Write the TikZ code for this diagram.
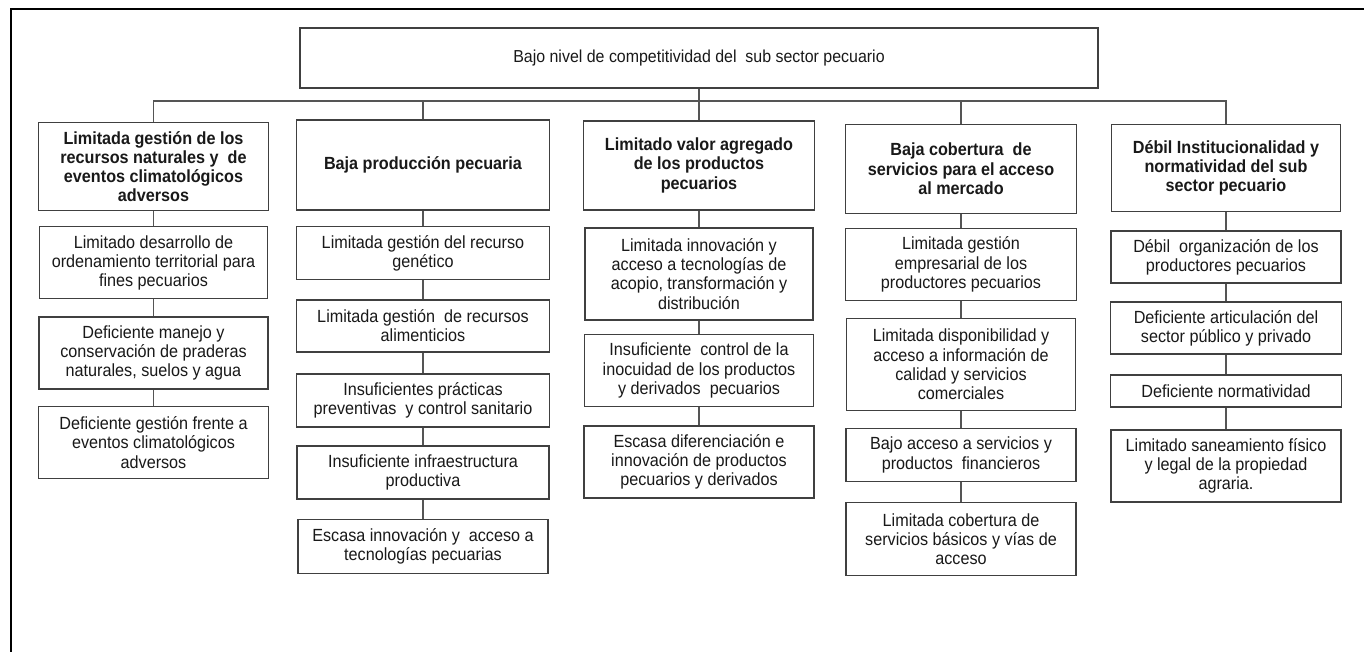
\documentclass[tikz,border=0pt]{standalone}
\usepackage{fontspec}
\setmainfont{Liberation Sans}[FakeStretch=0.92]
\usetikzlibrary{positioning}

\definecolor{boxline}{RGB}{64,64,64}
\definecolor{linkline}{RGB}{85,85,85}

\tikzset{every picture/.style={line width=0.75pt}}
\tikzset{
	cbox/.style={draw=boxline, line width=1.1pt, fill=white, align=center, inner sep=2pt,
		font=\fontsize{13.2}{14.4}\selectfont, text=black!90},
	hbox/.style={cbox, font=\fontsize{13.2}{14.4}\selectfont\bfseries},
	link/.style={draw=linkline, line width=1pt},
}

\begin{document}
\begin{tikzpicture}[x=0.75pt,y=0.75pt,yscale=-1,xscale=1]
	\useasboundingbox (0,0) rectangle (1364,652);
	
	%Shape: Frame
	\draw [line width=2.2pt] (1370,9) -- (11,9) -- (11,660) ;
	
	%Rectangle: main problem
	\node [cbox, minimum width=598.5pt, minimum height=45pt, font=\fontsize{13}{14}\selectfont] (top) at (699,58) {Bajo nivel de competitividad del \ sub sector pecuario};
	
	%Rectangles: direct causes
	\node [hbox, minimum width=172.5pt, minimum height=66pt] (c1) at (153.5,166.5) {Limitada gestión de los\\recursos naturales y \ de\\eventos climatológicos\\adversos};
	\node [hbox, minimum width=189.75pt, minimum height=67.5pt] (c2) at (423,165) {Baja producción pecuaria};
	\node [hbox, minimum width=173.25pt, minimum height=66.75pt] (c3) at (699,165.3) {Limitado valor agregado\\de los productos\\pecuarios};
	\node [hbox, minimum width=173.25pt, minimum height=66.75pt] (c4) at (961,168.8) {Baja cobertura \ de\\servicios para el acceso\\al mercado};
	\node [hbox, minimum width=171.75pt, minimum height=65.25pt] (c5) at (1226,168) {Débil Institucionalidad y\\normatividad del sub\\sector pecuario};
	
	%Rectangles: column 1
	\node [cbox, minimum width=171pt, minimum height=54pt] (c1a) at (153.5,262.7) {Limitado desarrollo de\\ordenamiento territorial para\\fines pecuarios};
	\node [cbox, minimum width=171.75pt, minimum height=54pt] (c1b) at (153.5,353) {Deficiente manejo y\\conservación de praderas\\naturales, suelos y agua};
	\node [cbox, minimum width=172.5pt, minimum height=54pt] (c1c) at (153.5,442.5) {Deficiente gestión frente a\\eventos climatológicos\\adversos};
	
	%Rectangles: column 2
	\node [cbox, minimum width=189.75pt, minimum height=39.75pt] (c2a) at (423,253) {Limitada gestión del recurso\\genético};
	\node [cbox, minimum width=189.75pt, minimum height=39pt] (c2b) at (423,325.8) {Limitada gestión \ de recursos\\alimenticios};
	\node [cbox, minimum width=189.75pt, minimum height=39.75pt] (c2c) at (423,400.7) {Insuficientes prácticas\\preventivas \ y control sanitario};
	\node [cbox, minimum width=189pt, minimum height=39.75pt] (c2d) at (423,472.7) {Insuficiente infraestructura\\productiva};
	\node [cbox, minimum width=187.5pt, minimum height=40.5pt] (c2e) at (423,546.3) {Escasa innovación y \ acceso a\\tecnologías pecuarias};
	
	%Rectangles: column 3
	\node [cbox, minimum width=171pt, minimum height=69pt] (c3a) at (699,274) {Limitada innovación y\\acceso a tecnologías de\\acopio, transformación y\\distribución};
	\node [cbox, minimum width=171.75pt, minimum height=54pt] (c3b) at (699,370.5) {Insuficiente \ control de la\\inocuidad de los productos\\y derivados \ pecuarios};
	\node [cbox, minimum width=172.5pt, minimum height=54pt] (c3c) at (699,462) {Escasa diferenciación e\\innovación de productos\\pecuarios y derivados};
	
	%Rectangles: column 4
	\node [cbox, minimum width=173.25pt, minimum height=54pt] (c4a) at (961,264.5) {Limitada gestión\\empresarial de los\\productores pecuarios};
	\node [cbox, minimum width=171.75pt, minimum height=69pt] (c4b) at (961,364.5) {Limitada disponibilidad y\\acceso a información de\\calidad y servicios\\comerciales};
	\node [cbox, minimum width=172.5pt, minimum height=39.75pt] (c4c) at (961,455) {Bajo acceso a servicios y\\productos \ financieros};
	\node [cbox, minimum width=172.5pt, minimum height=54.75pt] (c4d) at (961,539.2) {Limitada cobertura de\\servicios básicos y vías de\\acceso};
	
	%Rectangles: column 5
	\node [cbox, minimum width=172.5pt, minimum height=39pt] (c5a) at (1226,257) {Débil \ organización de los\\productores pecuarios};
	\node [cbox, minimum width=173.25pt, minimum height=39pt] (c5b) at (1226,328) {Deficiente articulación del\\sector público y privado};
	\node [cbox, minimum width=173.25pt, minimum height=24pt] (c5c) at (1226,391.2) {Deficiente normatividad};
	\node [cbox, minimum width=172.5pt, minimum height=54pt] (c5d) at (1226,465.8) {Limitado saneamiento físico\\y legal de la propiedad\\agraria.};
	
	%Straight Lines: branches
	\coordinate (bus) at (699,101) ;
	\draw [link] (top) -- (c3) ;
	\draw [link] (c1) -- (c1.north |- bus) -- (c5.north |- bus) -- (c5) ;
	\draw [link] (c2) -- (c2.north |- bus) ;
	\draw [link] (c4) -- (c4.north |- bus) ;
	
	%Straight Lines: columns
	\foreach \a/\b in {c1/c1a, c1a/c1b, c1b/c1c, c2/c2a, c2a/c2b, c2b/c2c, c2c/c2d, c2d/c2e,
		c3/c3a, c3a/c3b, c3b/c3c, c4/c4a, c4a/c4b, c4b/c4c, c4c/c4d,
		c5/c5a, c5a/c5b, c5b/c5c, c5c/c5d}
	\draw [link] (\a) -- (\b) ;
	
\end{tikzpicture}
\end{document}
